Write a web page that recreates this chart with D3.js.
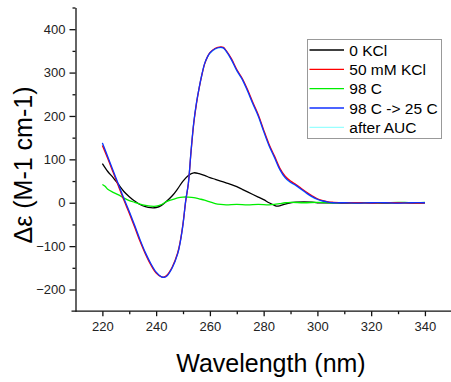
<!DOCTYPE html>
<html>
<head>
<meta charset="utf-8">
<script src="https://cdn.jsdelivr.net/npm/d3@7"></script>
<style>
  html, body { margin: 0; padding: 0; background: #fff; }
  svg { display: block; }
  text { font-family: "Liberation Sans", Arial, sans-serif; }
</style>
</head>
<body>
<svg id="chart" width="451" height="382"></svg>
<script>
// ---- data ----
const seriesNames = ["0 KCl", "50 mM KCl", "98 C", "98 C -> 25 C", "after AUC"];
const seriesColors = ["#000000", "#ff0000", "#00ee00", "#1030ff", "#99ffff"];

const kcl0 = [[220,90],[222,72],[224,58],[226,42],[228,26],[230,14],[232,4],[234,-4],[236,-9],[238,-11.5],[240,-11],[242,-6],[244,4],[246,16],[248,32],[250,50],[252,63],[254,69],[256,67],[258,63],[260,58],[262,54],[264,50],[266,46],[268,42],[270,37],[272,31],[274,25],[276,19],[278,13],[280,7],[282,0],[284,-6],[285,-8],[286,-7],[288,-3],[290,0],[292,1.5],[295,2],[298,1.5],[300,0],[305,0],[310,-1],[315,0],[320,0],[325,-1],[330,0],[335,0],[340,0]];

const kcl50 = [[220,132],[222,102],[224,70],[226,38],[228,6],[230,-24],[232,-56],[234,-89],[236,-118],[238,-143],[240,-162],[242,-171],[243,-171],[244,-167],[246,-148],[248,-116],[249,-88],[250,-48],[251,3],[252,45],[253,118],[254,183],[255,228],[256,264],[257,294],[258,319],[259,335],[260,346],[262,356],[264,359],[265,358],[266,351],[268,332],[270,307],[272,287],[274,261],[276,231],[278,203],[280,168],[282,135],[284,108],[286,80],[288,61],[290,50],[292,42],[294,33],[296,24],[298,16],[300,9],[302,5],[304,2],[306,1],[310,0],[315,0],[320,-1],[325,0],[330,0],[335,-1],[340,0]];

const hot98 = [[220,42],[221,38],[222,31],[224,24],[226,18],[228,11],[230,5],[232,1],[234,-3],[236,-6],[238,-8],[240,-8],[242,-4],[244,3],[246,7],[248,11],[250,13],[252,13],[254,12],[256,9],[258,6],[260,2],[262,-2],[264,-4],[266,-5],[270,-4],[274,-5],[278,-4],[282,-5],[284,-4],[286,-2],[288,0],[290,1],[295,0],[300,1],[305,0],[310,0],[315,-1],[320,0],[325,0],[330,1],[335,0],[340,1]];

const cooled = [[220,138],[222,106],[224,74],[226,42],[228,10],[230,-20],[232,-52],[234,-85],[236,-115],[238,-140],[240,-160],[242,-171],[243,-172],[244,-169],[246,-150],[248,-118],[249,-90],[250,-50],[251,5],[252,45],[253,120],[254,185],[255,230],[256,265],[257,295],[258,320],[259,335],[260,345],[262,355],[264,358],[265,357],[266,350],[268,330],[270,305],[272,285],[274,258],[276,228],[278,200],[280,165],[282,132],[284,105],[286,77],[288,58],[290,47],[292,40],[294,31],[296,22],[298,14],[300,8],[302,4],[304,1.5],[306,0],[310,0],[315,-1],[320,0],[325,0],[330,-1],[335,0],[340,0]];

const afterAUC = [[220,137],[222,105],[224,73],[226,41],[228,9],[230,-21],[232,-53],[234,-86],[236,-116],[238,-141],[240,-160],[242,-171],[243,-171],[244,-168],[246,-149],[248,-117],[249,-89],[250,-49],[251,5],[252,46],[253,121],[254,185],[255,230],[256,265],[257,294],[258,319],[259,334],[260,344],[262,354],[264,357],[265,356],[266,349],[268,329],[270,304],[272,284],[274,257],[276,227],[278,199],[280,164],[282,131],[284,104],[286,76],[288,57],[290,46],[292,39],[294,30],[296,21],[298,13],[300,7],[302,3],[304,1],[306,0],[310,0],[315,0],[320,0],[325,0],[330,0],[335,0],[340,0]];

const seriesData = [kcl0, kcl50, hot98, cooled, afterAUC];
const drawOrder = [4, 0, 2, 1, 3];

const xMajorTicks = [220, 240, 260, 280, 300, 320, 340];
const xMinorTicks = [230, 250, 270, 290, 310, 330, 350];
const yMajorTicks = [-200, -100, 0, 100, 200, 300, 400];
const yMinorTicks = [-150, -50, 50, 150, 250, 350, 450];

const xTitle = "Wavelength (nm)";
const yTitle = "\u0394\u03b5 (M-1 cm-1)";

// ---- chart ----
const svg = d3.select("#chart");
const x = d3.scaleLinear().domain([210, 350]).range([75.5, 451.8]);
const y = d3.scaleLinear().domain([-250, 450]).range([311.2, 7.5]);

const axisColor = "#111";
const labelColor = "#222";

// curves
const line = d3.line().x(d => x(d[0])).y(d => y(d[1])).curve(d3.curveCatmullRom.alpha(0.5));
const plot = svg.append("g");
drawOrder.forEach(i => {
  plot.append("path")
    .datum(seriesData[i])
    .attr("fill", "none")
    .attr("stroke", seriesColors[i])
    .attr("stroke-width", 1.3)
    .attr("d", line);
});

// x axis
const xAxisG = svg.append("g").attr("transform", `translate(0,${y(-250)})`);
xAxisG.call(d3.axisBottom(x).tickValues(xMajorTicks).tickSize(5).tickSizeOuter(0).tickPadding(6).tickFormat(d3.format("d")));
xAxisG.append("g").call(d3.axisBottom(x).tickValues(xMinorTicks).tickSize(3).tickSizeOuter(0).tickFormat(""))
  .select(".domain").remove();
xAxisG.select(".domain").attr("d", `M${x(210) - 4},0H${x(350)}`);

// y axis
const yAxisG = svg.append("g").attr("transform", `translate(${x(210)},0)`);
yAxisG.call(d3.axisLeft(y).tickValues(yMajorTicks).tickSize(6).tickSizeOuter(0).tickPadding(4).tickFormat(d3.format("d")));
yAxisG.append("g").call(d3.axisLeft(y).tickValues(yMinorTicks).tickSize(3).tickSizeOuter(0).tickFormat(""))
  .select(".domain").remove();

svg.selectAll(".domain, .tick line").attr("stroke", axisColor).attr("stroke-width", 1.3);
svg.selectAll(".tick text").attr("fill", labelColor).style("font-size", "13px")
  .style("font-family", "'Liberation Sans', Arial, sans-serif");

// titles
svg.append("text")
  .attr("x", 271).attr("y", 371.5)
  .attr("text-anchor", "middle")
  .style("font-size", "25px")
  .attr("fill", "#000")
  .text(xTitle);

svg.append("text")
  .attr("transform", "translate(31.5,165) rotate(-90)")
  .attr("text-anchor", "middle")
  .style("font-size", "25px")
  .attr("fill", "#000")
  .text(yTitle);

// legend
const lg = svg.append("g");
lg.append("rect")
  .attr("x", 307.5).attr("y", 39.5).attr("width", 134).attr("height", 99)
  .attr("fill", "#fff").attr("stroke", "#999").attr("stroke-width", 1);
const rowY = d3.scalePoint().domain(d3.range(seriesNames.length)).range([50, 127.3]);
seriesNames.forEach((name, i) => {
  lg.append("line")
    .attr("x1", 309.5).attr("x2", 344)
    .attr("y1", rowY(i)).attr("y2", rowY(i))
    .attr("stroke", seriesColors[i]).attr("stroke-width", 1.3);
  lg.append("text")
    .attr("x", 349.3).attr("y", rowY(i)).attr("dy", "0.36em")
    .style("font-size", "15.5px").attr("fill", "#000")
    .text(name);
});
</script>
</body>
</html>
